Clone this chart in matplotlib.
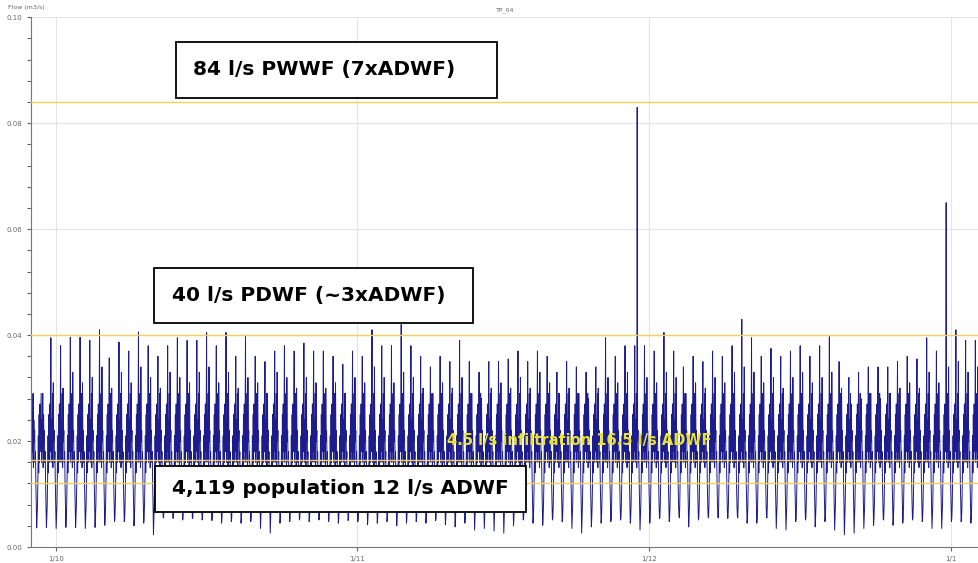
import numpy as np
import matplotlib
matplotlib.use("Agg")
import matplotlib.pyplot as plt
from matplotlib.patches import Rectangle

# flow record TP_04, one row of values per day starting 28 Sept
start = np.datetime64('2016-09-28T00:00')

# daily night minimum (m3/s)
low = [0.009, 0.0036, 0.0037, 0.0035, 0.0037, 0.0037, 0.0035, 0.0037, 0.0041, 0.0048,
       0.0048, 0.004, 0.0045, 0.0023, 0.0056, 0.0054, 0.0051, 0.0054, 0.0051, 0.005,
       0.0045, 0.0048, 0.0045, 0.0048, 0.0035, 0.0026, 0.0045, 0.0048, 0.0051, 0.0048,
       0.0051, 0.0048, 0.0045, 0.005, 0.0048, 0.0042, 0.0045, 0.0048, 0.004, 0.0045,
       0.0048, 0.0045, 0.005, 0.0042, 0.0038, 0.0045, 0.0032, 0.0035, 0.003, 0.0026,
       0.004, 0.0051, 0.0045, 0.0041, 0.0051, 0.0048, 0.0035, 0.0026, 0.0038, 0.0045,
       0.0048, 0.0051, 0.0045, 0.0032, 0.0045, 0.0054, 0.0048, 0.006, 0.0038, 0.0051,
       0.0057, 0.0057, 0.0054, 0.006, 0.0045, 0.0045, 0.0057, 0.0035, 0.0032, 0.0048,
       0.0051, 0.0038, 0.0048, 0.0032, 0.0023, 0.0026, 0.0035, 0.0041, 0.0051, 0.0041,
       0.0045, 0.0051, 0.0048, 0.0035, 0.0035, 0.0048, 0.0048, 0.0045, 0.0045]

# daily main peak (around midday)
peak = [0.031, 0.029, 0.0395, 0.038, 0.0396, 0.0396, 0.039, 0.041, 0.0357, 0.0387,
        0.037, 0.0406, 0.038, 0.036, 0.038, 0.0395, 0.039, 0.039, 0.0405, 0.038,
        0.0405, 0.036, 0.040, 0.036, 0.035, 0.037, 0.038, 0.037, 0.0385, 0.037,
        0.037, 0.036, 0.0345, 0.037, 0.036, 0.041, 0.038, 0.038, 0.042, 0.038,
        0.036, 0.034, 0.036, 0.035, 0.039, 0.035, 0.033, 0.035, 0.035, 0.0355,
        0.037, 0.035, 0.037, 0.036, 0.033, 0.035, 0.034, 0.033, 0.034, 0.0395,
        0.036, 0.038, 0.038, 0.038, 0.037, 0.0405, 0.037, 0.034, 0.036, 0.035,
        0.037, 0.036, 0.038, 0.043, 0.0395, 0.036, 0.0375, 0.036, 0.037, 0.038,
        0.036, 0.038, 0.0397, 0.035, 0.032, 0.033, 0.034, 0.034, 0.034, 0.035,
        0.036, 0.0355, 0.0395, 0.037, 0.065, 0.041, 0.039, 0.039, 0.037]

# daily evening peak
peak2 = [0.024, 0.025, 0.031, 0.030, 0.033, 0.031, 0.032, 0.034, 0.030, 0.033,
         0.031, 0.034, 0.032, 0.030, 0.033, 0.032, 0.031, 0.033, 0.034, 0.031,
         0.033, 0.030, 0.032, 0.031, 0.029, 0.033, 0.032, 0.030, 0.032, 0.031,
         0.030, 0.031, 0.029, 0.032, 0.031, 0.034, 0.032, 0.031, 0.033, 0.032,
         0.030, 0.029, 0.031, 0.030, 0.032, 0.029, 0.028, 0.030, 0.031, 0.030,
         0.032, 0.030, 0.033, 0.031, 0.029, 0.030, 0.029, 0.028, 0.030, 0.032,
         0.031, 0.033, 0.083, 0.032, 0.031, 0.033, 0.032, 0.029, 0.031, 0.030,
         0.032, 0.031, 0.033, 0.034, 0.033, 0.031, 0.032, 0.030, 0.032, 0.033,
         0.031, 0.032, 0.033, 0.030, 0.027, 0.028, 0.029, 0.028, 0.029, 0.030,
         0.031, 0.030, 0.033, 0.031, 0.034, 0.035, 0.033, 0.034, 0.032]

# typical hourly readings from 20:00 the evening before to 19:00;
# None marks the slots taken from low / peak / peak2
hourly = [0.022, 0.016, 0.018, 0.012, 0.008, None, 0.0055, 0.008,
          0.013, 0.021, 0.014, 0.025, 0.016, 0.027, 0.018, 0.023,
          None, 0.016, 0.024, 0.018, 0.029, 0.015, None, 0.020]
slot_low, slot_peak, slot_peak2 = 5, 16, 22

levels = [0.084, 0.040, 0.0165, 0.012]

tick_dates = ['2016-10-01', '2016-11-01', '2016-12-01', '2017-01-01']
tick_labels = ['1/10', '1/11', '1/12', '1/1']

t = []
q = []
for i in range(len(low)):
    day = list(hourly)
    day[slot_low] = low[i]
    day[slot_peak] = peak[i]
    day[slot_peak2] = peak2[i]
    for k, v in enumerate(day):
        t.append(start + np.timedelta64(i * 24 + k - 4, 'h'))
        q.append(v)
t = np.array(t)

W, H = 979, 563
fig = plt.figure(figsize=(W / 100, H / 100), dpi=100)
ax = fig.add_axes([31 / W, 1 - 547 / H, 948 / W, (547 - 17.3) / H])

ax.plot(t, q, color='#1c1c8c', lw=0.7, zorder=2)
for lv in levels:
    ax.axhline(lv, color='#f0d25a', lw=1.0, zorder=3)

ax.set_xlim(start + np.timedelta64(11, 'h'), start + np.timedelta64(97 * 24 + 21, 'h'))
ax.set_ylim(0, 0.10)

ax.set_xticks([np.datetime64(d) for d in tick_dates])
ax.set_xticklabels(tick_labels)
ax.set_yticks(np.arange(0, 0.101, 0.02))
ax.set_yticklabels(['%.2f' % v for v in np.arange(0, 0.101, 0.02)])
ax.set_yticks(np.arange(0, 0.101, 0.004), minor=True)
ax.tick_params(axis='both', labelsize=5, colors='#666666', length=3, width=0.8)
ax.tick_params(axis='y', which='minor', length=3, width=0.8, colors='#666666')
ax.grid(True, color='#e4e4e4', lw=0.8, zorder=0)
for s in ['top', 'right']:
    ax.spines[s].set_visible(False)
for s in ['left', 'bottom']:
    ax.spines[s].set_color('#777777')

fig.text(447 / W, 1 - 441 / H, '4.5 l/s infiltration 16.5 l/s ADWF',
         fontsize=10.5, fontweight='bold', color='#e6e22e', va='center', zorder=5)

fig.text(8 / W, 1 - 7 / H, 'Flow (m3/s)', fontsize=4.5, color='#666666', va='center')
fig.text(505 / W, 1 - 10 / H, 'TP_04', fontsize=4.5, color='#666666', ha='center', va='center')

boxes = [
    (176, 42, 497, 98, 193, '84 l/s PWWF (7xADWF)'),
    (154, 268, 473, 323, 172, '40 l/s PDWF (~3xADWF)'),
    (155, 466, 526, 512, 172, '4,119 population 12 l/s ADWF'),
]
for x0, y0, x1, y1, tx, label in boxes:
    fig.add_artist(Rectangle((x0 / W, 1 - y1 / H), (x1 - x0) / W, (y1 - y0) / H,
                             transform=fig.transFigure, facecolor='white',
                             edgecolor='black', lw=1.3, zorder=6))
    fig.text(tx / W, 1 - (y0 + y1) / 2 / H, label, fontsize=14.5, fontweight='bold',
             color='black', va='center', zorder=7)

fig.savefig('out.png', dpi=100)
